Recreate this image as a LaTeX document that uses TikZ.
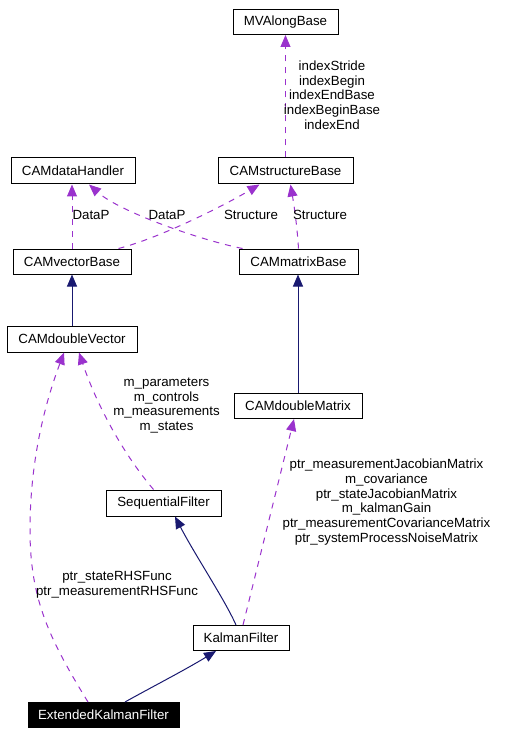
\documentclass[tikz,border=0pt]{standalone}
\usepackage{fontspec}
\setmainfont{Liberation Sans}
\usetikzlibrary{arrows.meta}
\definecolor{edgeblue}{RGB}{25,25,112}
\definecolor{edgepurple}{RGB}{154,50,205}
\begin{document}
\begin{tikzpicture}[x=1pt,y=-1pt,
    cls/.style={draw, line width=1pt, inner sep=0pt, minimum height=25pt, font=\fontsize{13.3}{14.7}\selectfont},
    lbl/.style={align=center, inner sep=0pt, font=\fontsize{13.3}{14.7}\selectfont},
    inherit/.style={draw=edgeblue, line width=1pt, -{Triangle[length=12pt,width=10pt]}},
    usage/.style={draw=edgepurple, line width=1pt, dash pattern=on 6pt off 6pt, -{Triangle[length=12pt,width=10pt]}}]

    \useasboundingbox (0,0) rectangle (509,735);

    \node [cls, minimum width=105pt] (mva) at (285.5,22) {MVAlongBase};
    \node [cls, minimum width=124pt, minimum height=26pt] (dh) at (73,171) {CAMdataHandler};
    \node [cls, minimum width=135pt, minimum height=26pt] (sb) at (285.5,171) {CAMstructureBase};
    \node [cls, minimum width=118pt] (vb) at (72,261.5) {CAMvectorBase};
    \node [cls, minimum width=119pt] (mb) at (298.5,261.5) {CAMmatrixBase};
    \node [cls, minimum width=130pt, minimum height=26pt] (dv) at (72,339) {CAMdoubleVector};
    \node [cls, minimum width=128pt] (dm) at (298,406) {CAMdoubleMatrix};
    \node [cls, minimum width=115pt, minimum height=26pt] (sf) at (163.5,503) {SequentialFilter};
    \node [cls, minimum width=96pt] (kf) at (241,638) {KalmanFilter};
    \node [cls, fill=black, text=white, minimum width=151pt] (ekf) at (103.5,715) {ExtendedKalmanFilter};

    \draw [usage] (sb.north) -- (mva.south);
    \node [lbl] (idx) at (332,95) {indexStride\\indexBegin\\indexEndBase\\indexBeginBase\\indexEnd};

    \draw [usage] (vb.north) -- (vb.north |- dh.south);
    \node [lbl] (vbdata) at (91,215) {DataP};
    \draw [usage] ([xshift=4pt]mb.north west) .. controls (200,240) and (120,212) .. ([xshift=16pt]dh.south);
    \node [lbl] (mbdata) at (167,215) {DataP};
    \draw [usage] ([xshift=-13pt]vb.north east) .. controls (160,238) and (225,205) .. ([xshift=-26pt]sb.south);
    \node [lbl] (vbstruct) at (251,215) {Structure};
    \draw [usage] (mb.north) .. controls (297,225) and (294,205) .. ([xshift=5pt]sb.south);
    \node [lbl] (mbstruct) at (320,215) {Structure};

    \draw [inherit] (dv.north) -- (vb.south);
    \draw [inherit] (dm.north) -- (dm.north |- mb.south);

    \draw [usage] ([xshift=-10pt]sf.north) .. controls (120,450) and (95,400) .. ([xshift=7pt]dv.south);
    \node [lbl] (sfvec) at (166.5,405.5) {m\_parameters\\m\_controls\\m\_measurements\\m\_states};

    \draw [usage] ([xshift=-15.5pt]ekf.north) .. controls (50,640) and (30,600) .. (30,530)
        .. controls (30,450) and (50,390) .. ([xshift=-8pt]dv.south);
    \node [lbl] (ekfvec) at (117,584.5) {ptr\_stateRHSFunc\\ptr\_measurementRHSFunc};

    \draw [inherit] ([xshift=-5pt]kf.north) .. controls (225,600) and (195,555) .. ([xshift=11.5pt]sf.south);
    \draw [usage] ([xshift=2pt]kf.north) -- ([xshift=-4pt]dm.south);
    \node [lbl] (kfmat) at (386.5,502) {ptr\_measurementJacobianMatrix\\m\_covariance\\ptr\_stateJacobianMatrix\\m\_kalmanGain\\ptr\_measurementCovarianceMatrix\\ptr\_systemProcessNoiseMatrix};

    \draw [inherit] ([xshift=21.5pt]ekf.north) .. controls (150,688) and (185,670) .. ([xshift=-25pt]kf.south);

\end{tikzpicture}
\end{document}
